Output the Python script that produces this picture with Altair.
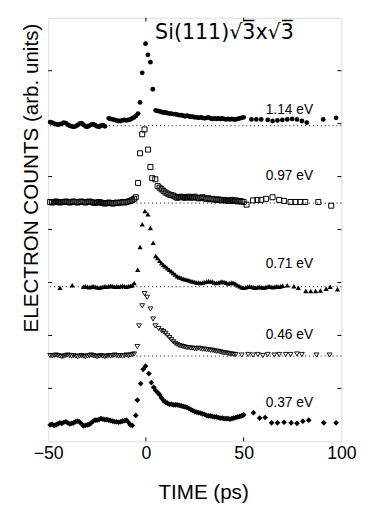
import altair as alt
import pandas as pd

# ---------------- data ----------------
# y axis in arbitrary units, 0..8 ; x axis time in ps
X_TICKS = [-50, 0, 50, 100]
Y_TICKS = [1, 2, 3, 4, 5, 6, 7]
BASELINES = [5.96, 4.50, 2.92, 1.61]          # dotted reference lines
LABELS = ["1.14 eV", "0.97 eV", "0.71 eV", "0.46 eV", "0.37 eV"]
LABEL_T = [73.4, 73.4, 73.4, 73.4, 73.4]
LABEL_V = [6.19, 4.93, 3.28, 1.94, 0.65]

# 1.14 eV (filled circles)
S1_T = (list(range(-49, -20)) + list(range(-19, -3))
        + [-3.0, -1.9, -0.2, 1.0, 2.3, 3.5] + list(range(5, 51))
        + [54, 56.5, 59, 62.3, 64.8, 67.3, 69.8, 72.3, 74.8, 77.3, 79.8, 82.3, 90.7, 97.3])
S1_V = ([6.03, 6.02, 6.00, 5.99, 5.98, 5.99, 6.00, 6.02, 6.01, 5.98, 5.96, 5.95, 5.94, 5.95, 5.97,
         6.00, 6.01, 5.98, 5.95, 5.94, 5.96, 5.98, 5.99, 5.97, 5.95, 5.94, 5.96, 5.97, 5.95]
        + [6.10, 6.09, 6.08, 6.07, 6.06, 6.05, 6.05, 6.06, 6.07, 6.06, 6.07, 6.08, 6.10, 6.12, 6.15, 6.19]
        + [6.40, 6.96, 7.51, 7.30, 7.16, 6.65]
        + [6.25, 6.24, 6.23, 6.22, 6.21, 6.21, 6.20, 6.19, 6.19, 6.18,
           6.18, 6.17, 6.16, 6.16, 6.15, 6.14, 6.15, 6.14, 6.13, 6.13,
           6.12, 6.12, 6.11, 6.12, 6.11, 6.10, 6.11, 6.12, 6.10, 6.09,
           6.10, 6.09, 6.10, 6.09, 6.10, 6.09, 6.08, 6.09, 6.08, 6.09,
           6.08, 6.08, 6.09, 6.10, 6.11, 6.12]
        + [6.08, 6.08, 6.08, 6.07, 6.05, 6.06, 6.07, 6.08, 6.09, 6.08, 6.05, 6.02, 6.08, 6.11])

# 0.97 eV (open squares)
S2_T = (list(range(-49, -9)) + [-9, -8, -7, -6, -5.2]
        + [-4.0, -3.0, -1.9, -0.7, 1.1, 2.3, 3.2, 4.8] + list(range(6, 51))
        + [51.5, 54.8, 57, 59, 61.5, 64.8, 68.2, 70.7, 74, 76.5, 79, 81.5, 88.2, 94.8])
S2_V = ([4.52, 4.51, 4.52, 4.53, 4.52, 4.51, 4.52, 4.52, 4.53, 4.52,
         4.51, 4.52, 4.53, 4.52, 4.51, 4.52, 4.53, 4.52, 4.51, 4.52,
         4.53, 4.52, 4.51, 4.50, 4.51, 4.52, 4.51, 4.50, 4.49, 4.50,
         4.51, 4.50, 4.49, 4.50, 4.51, 4.50, 4.51, 4.52, 4.51, 4.52]
        + [4.53, 4.54, 4.56, 4.58, 4.61]
        + [4.88, 5.44, 5.80, 5.89, 5.51, 5.18, 4.97, 4.95]
        + [4.82, 4.79, 4.76, 4.73, 4.70, 4.68, 4.66, 4.65, 4.64, 4.62,
           4.60, 4.61, 4.62, 4.61, 4.60, 4.61, 4.62, 4.60, 4.61, 4.62,
           4.60, 4.59, 4.60, 4.61, 4.59, 4.58, 4.59, 4.57, 4.58, 4.57,
           4.56, 4.57, 4.56, 4.55, 4.56, 4.55, 4.54, 4.55, 4.56, 4.54,
           4.55, 4.53, 4.54, 4.53, 4.52]
        + [4.47, 4.55, 4.56, 4.56, 4.58, 4.61, 4.56, 4.54, 4.52, 4.52, 4.52, 4.52, 4.52, 4.45])

# 0.71 eV (filled up-triangles)
S3_T = ([-44, -37.7] + list(range(-32, -6))
        + [-6.0, -4.2, -3.0, -1.9, -0.5, 1.0, 2.3, 3.7] + list(range(5, 71))
        + [72.3, 75.7, 78, 81.8, 84.3, 86.8, 89.3, 92.2, 94.3, 98])
S3_V = ([2.90, 2.95]
        + [2.92, 2.93, 2.92, 2.91, 2.92, 2.93, 2.92, 2.91, 2.90, 2.91, 2.92, 2.93, 2.92,
           2.93, 2.94, 2.93, 2.92, 2.93, 2.92, 2.93, 2.94, 2.93, 2.92, 2.93, 2.94, 2.95]
        + [2.99, 3.24, 3.67, 4.10, 4.35, 4.29, 4.03, 3.75]
        + [3.50, 3.46, 3.41, 3.37, 3.33, 3.30, 3.27, 3.24, 3.21, 3.18,
           3.15, 3.12, 3.10, 3.09, 3.07, 3.06, 3.05, 3.04, 3.03, 3.02,
           3.01, 3.00, 3.00, 2.99, 3.00, 3.01, 3.02, 3.03, 3.02, 3.02,
           3.00, 2.99, 3.00, 3.01, 3.02, 3.01, 3.00, 2.98, 2.99, 3.00,
           2.99, 2.97, 2.95, 2.93, 2.91, 2.90, 2.91, 2.92, 2.93, 2.92,
           2.91, 2.90, 2.91, 2.92, 2.91, 2.90, 2.91, 2.92, 2.93, 2.92,
           2.91, 2.92, 2.93, 2.92, 2.93, 2.94]
        + [2.95, 2.93, 2.90, 2.84, 2.84, 2.84, 2.85, 2.88, 2.92, 2.87])

# 0.46 eV (open down-triangles)
S4_T = (list(range(-49, -6))
        + [-6.0, -4.4, -3.5, -1.9, -0.7, 0.6, 2.3, 3.7, 4.8, 6.5] + list(range(8, 47))
        + [49, 52.3, 54.8, 57.3, 59.8, 62.3, 65.7, 68.2, 71.5, 74, 77.3, 79.8, 87.3, 94])
S4_V = ([1.62, 1.61, 1.62, 1.63, 1.62, 1.61, 1.60, 1.61, 1.62, 1.63,
         1.62, 1.61, 1.62, 1.61, 1.60, 1.61, 1.62, 1.61, 1.60, 1.61,
         1.62, 1.63, 1.62, 1.61, 1.60, 1.61, 1.62, 1.61, 1.60, 1.61,
         1.62, 1.61, 1.62, 1.63, 1.62, 1.61, 1.62, 1.61, 1.62, 1.63,
         1.62, 1.63, 1.64]
        + [1.65, 1.79, 2.18, 2.56, 2.79, 2.72, 2.50, 2.31, 2.18, 2.13]
        + [2.09, 2.07, 2.04, 2.00, 1.96, 1.92, 1.88, 1.85, 1.83, 1.81,
           1.80, 1.79, 1.78, 1.77, 1.77, 1.76, 1.76, 1.75, 1.75, 1.76,
           1.75, 1.74, 1.74, 1.73, 1.73, 1.72, 1.72, 1.71, 1.70, 1.70,
           1.69, 1.68, 1.67, 1.67, 1.66, 1.65, 1.65, 1.64, 1.64]
        + [1.63, 1.64, 1.63, 1.64, 1.62, 1.64, 1.63, 1.64, 1.64, 1.64, 1.65, 1.64, 1.63, 1.63])

# 0.37 eV (filled diamonds)
S5_T = (list(range(-49, -6))
        + [-5.2, -4.4, -2.7, -1.4, -0.2, 1.5, 2.8, 4.0] + list(range(5, 51))
        + [55, 58.2, 61, 64.3, 67.3, 70.7, 74.3, 77.3, 80.3, 83.3, 91, 97.3])
S5_V = ([0.31, 0.32, 0.30, 0.31, 0.33, 0.35, 0.34, 0.36, 0.37, 0.35,
         0.33, 0.34, 0.35, 0.37, 0.38, 0.37, 0.33, 0.29, 0.30, 0.31,
         0.32, 0.35, 0.38, 0.40, 0.40, 0.41, 0.43, 0.42, 0.41, 0.41,
         0.40, 0.39, 0.38, 0.37, 0.37, 0.36, 0.37, 0.38, 0.39, 0.40,
         0.36, 0.31, 0.30]
        + [0.49, 0.78, 1.09, 1.36, 1.42, 1.28, 1.11, 1.02]
        + [0.96, 0.92, 0.88, 0.82, 0.77, 0.74, 0.72, 0.70, 0.70, 0.69,
           0.69, 0.69, 0.68, 0.67, 0.66, 0.65, 0.64, 0.62, 0.60, 0.58,
           0.56, 0.55, 0.54, 0.53, 0.52, 0.51, 0.49, 0.48, 0.48, 0.47,
           0.46, 0.46, 0.45, 0.44, 0.44, 0.43, 0.43, 0.43, 0.42, 0.43,
           0.44, 0.45, 0.46, 0.47, 0.48, 0.50]
        + [0.54, 0.44, 0.45, 0.35, 0.35, 0.36, 0.35, 0.34, 0.38, 0.40, 0.35, 0.35])

TITLE = "Si(111)\u221a3\u0305x\u221a3\u0305"
TITLE_T = [4.7]
TITLE_V = [7.59]

# ---------------- chart ----------------
FONT = "Liberation Sans"
W, H = 299, 432

x_scale = alt.Scale(domain=[-50, 100], nice=False, zero=False)
y_scale = alt.Scale(domain=[0, 8], nice=False, zero=False)

x_enc = alt.X("t:Q", scale=x_scale, axis=alt.Axis(
    values=X_TICKS, ticks=False, domain=False, grid=False,
    labelFont=FONT, labelFontSize=18, labelColor="black", labelPadding=4,
    labelFlush=False, format="d",
    title="TIME (ps)", titleFont=FONT, titleFontSize=21, titleFontWeight="normal",
    titleColor="black", titleBaseline="alphabetic", titleY=58, titleX=158,
    titleAlign="center"))
y_enc = alt.Y("v:Q", scale=y_scale, axis=alt.Axis(
    labels=False, ticks=False, domain=False, grid=False,
    title="ELECTRON COUNTS (arb. units)", titleFont=FONT, titleFontSize=21,
    titleFontWeight="normal", titleColor="black", titleBaseline="bottom",
    titleX=-7, titleY=163, titleAlign="center", titleAngle=270))


def series(t, v, **mark):
    df = pd.DataFrame({"t": t, "v": v})
    return alt.Chart(df).mark_point(**mark).encode(x=x_enc, y=y_enc)


base_df = pd.DataFrame({"v": BASELINES})
dotted = alt.Chart(base_df).mark_rule(color="black", strokeWidth=1, strokeDash=[1, 3]).encode(y=y_enc)

xt_df = pd.DataFrame({"t": X_TICKS[1:-1]})
yt_df = pd.DataFrame({"v": Y_TICKS})
tick_style = dict(color="black", strokeWidth=1)
xt_bot = alt.Chart(xt_df).mark_rule(**tick_style).encode(x=x_enc, y=alt.value(H - 4), y2=alt.value(H))
xt_top = alt.Chart(xt_df).mark_rule(**tick_style).encode(x=x_enc, y=alt.value(0), y2=alt.value(4))
yt_l = alt.Chart(yt_df).mark_rule(**tick_style).encode(y=y_enc, x=alt.value(0), x2=alt.value(4))
yt_r = alt.Chart(yt_df).mark_rule(**tick_style).encode(y=y_enc, x=alt.value(W - 4), x2=alt.value(W))

lab_df = pd.DataFrame({"t": LABEL_T, "v": LABEL_V, "label": LABELS})
labels = alt.Chart(lab_df).mark_text(
    font=FONT, fontSize=14, color="black", align="center", baseline="alphabetic"
).encode(x=x_enc, y=y_enc, text="label:N")

title_df = pd.DataFrame({"t": TITLE_T, "v": TITLE_V, "label": [TITLE]})
title = alt.Chart(title_df).mark_text(
    font="DejaVu Sans", fontSize=21, color="black", align="left", baseline="alphabetic"
).encode(x=x_enc, y=y_enc, text="label:N")

s1 = series(S1_T, S1_V, shape="circle", filled=True, color="black", size=24, opacity=1)
s2 = series(S2_T, S2_V, shape="square", filled=False, color="black", size=26, strokeWidth=1, opacity=1)
s3 = series(S3_T, S3_V, shape="triangle-up", filled=True, color="black", size=28, opacity=1)
s4 = series(S4_T, S4_V, shape="triangle-down", filled=False, color="black", size=24, strokeWidth=0.9, opacity=1)
s5 = series(S5_T, S5_V, shape="diamond", filled=True, color="black", size=34, opacity=1)

chart = alt.layer(
    dotted, xt_bot, xt_top, yt_l, yt_r, s1, s2, s3, s4, s5, labels, title
).properties(
    width=W, height=H, autosize="none",
    padding={"left": 41, "top": 5, "right": 19, "bottom": 60},
).configure_view(stroke="black", strokeWidth=1).configure(background="white")

chart.save("out.html", embed_options={"renderer": "svg", "actions": False})
